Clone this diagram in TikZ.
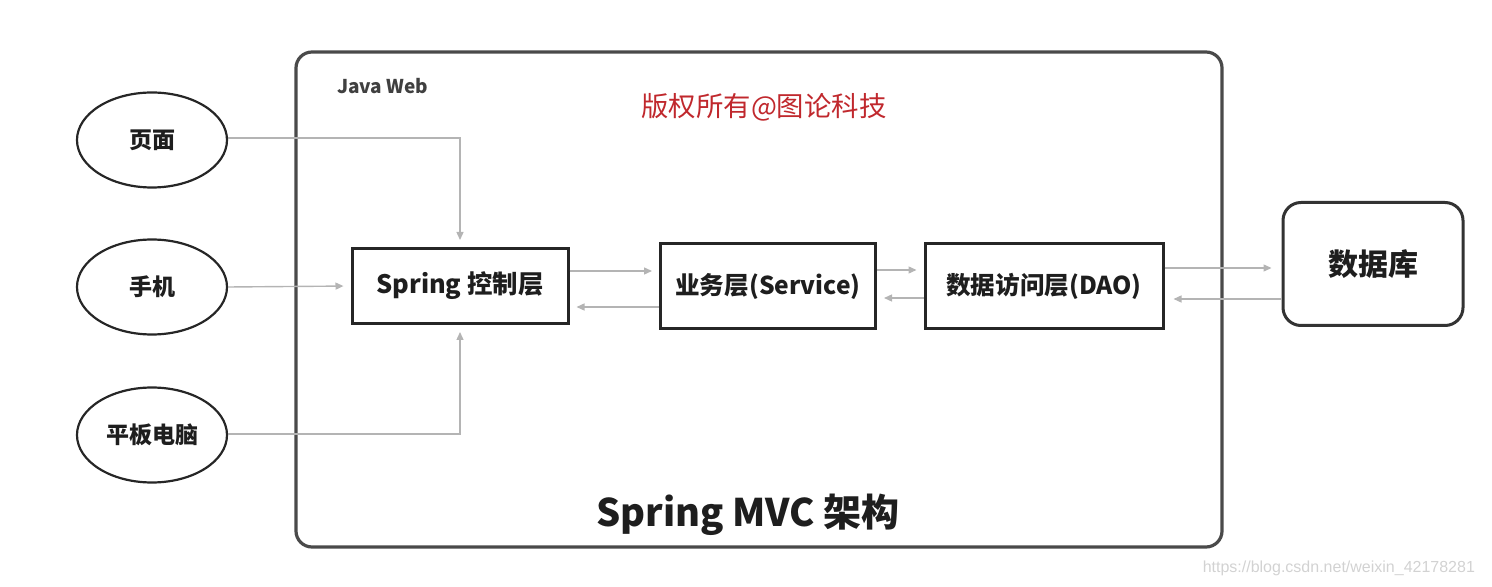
\documentclass[tikz,border=0pt]{standalone}
\usepackage{fontspec}
\setmainfont{Noto Sans CJK SC}
\newfontfamily\urlfont{Liberation Sans}
\usepackage{tikz}
\usetikzlibrary{calc,positioning,arrows.meta,shapes.geometric}
\usepackage{xcolor}
\definecolor{framegray}{HTML}{4A4A4A}
\definecolor{linkgray}{HTML}{B4B4B4}
\definecolor{markred}{HTML}{C0282D}
\definecolor{textdark}{HTML}{1E1E1E}
\definecolor{urlgray}{HTML}{D2D2D2}

\begin{document}
\begin{tikzpicture}[
      x=0.5pt, y=-0.5pt,
      every node/.style={font=\bfseries, text=textdark},
      layerbox/.style={
        draw=black!85, line width=1.5pt,
        inner sep=0pt,
        minimum height=42.5pt
      },
      clientnode/.style={
        ellipse, draw=black!85, line width=1.1pt,
        minimum width=75pt, minimum height=47.5pt,
        font=\fontsize{11.5}{13}\bfseries
      },
      flow/.style={
        draw=linkgray, line width=0.7pt,
        -{Triangle[length=4pt,width=3.5pt]},
        shorten >=3.5pt
      }
    ]
      \useasboundingbox (0,0) rectangle (1492,587);
      % outer frame
      \draw[framegray, line width=1.6pt, rounded corners=8pt] (296,52) rectangle (1222,547);
      \node[font=\fontsize{9.5}{11}\bfseries, text=black!75, anchor=west] (javaweb) at (330,86) {Java Web};
      \node[font=\fontsize{13.7}{16}\selectfont, text=markred] (mark) at (764,107) {版权所有@图论科技};
      \node[font=\fontsize{19}{22}\bfseries] (title) at (748,515) {Spring MVC 架构};

      % clients
      \node[clientnode] (page)   at (152,140) {页面};
      \node[clientnode] (phone)  at (152,287) {手机};
      \node[clientnode] (tablet) at (152,435) {平板电脑};

      % layers
      \node[layerbox, minimum width=108pt, minimum height=37.5pt, font=\fontsize{12.7}{14}\bfseries] (spring) at (460,286) {Spring 控制层};
      \node[layerbox, minimum width=107.5pt, font=\fontsize{12.3}{14}\bfseries] (service) at (768,286) {业务层(Service)};
      \node[layerbox, minimum width=119pt, font=\fontsize{12.3}{14}\bfseries] (dao) at (1044,286) {数据访问层(DAO)};
      \node[draw=black!80, line width=1.5pt, rounded corners=9pt, minimum width=90pt, minimum height=61.5pt,
            font=\fontsize{15}{18}\bfseries] (db) at (1373,264) {数据库};

      % client requests
      \draw[flow] ([yshift=1pt]page.east) -| (spring.north);
      \draw[flow] (phone.east) -- (spring.west);
      \draw[flow] ([yshift=0.5pt]tablet.east) -| (spring.south);

      % layer calls
      \draw[flow] ([yshift=7.5pt]spring.east) -- ([yshift=7.5pt]service.west);
      \draw[flow] ([yshift=-10.5pt]service.west) -- ([yshift=-10.5pt]spring.east);
      \draw[flow] ([yshift=8pt]service.east) -- ([yshift=8pt]dao.west);
      \draw[flow] ([yshift=-6pt]dao.west) -- ([yshift=-6pt]service.east);
      \draw[flow, shorten >=5pt] ([yshift=9pt]dao.east) -- ([yshift=-2pt]db.west);
      \draw[flow, shorten >=4.5pt] ([yshift=-17.5pt]db.west) -- ([yshift=-6.5pt]dao.east);

      \node[font=\urlfont\fontsize{8}{10}\selectfont, text=urlgray, anchor=east] (url) at (1482,568) {https://blog.csdn.net/weixin\_42178281};
    \end{tikzpicture}
\end{document}
